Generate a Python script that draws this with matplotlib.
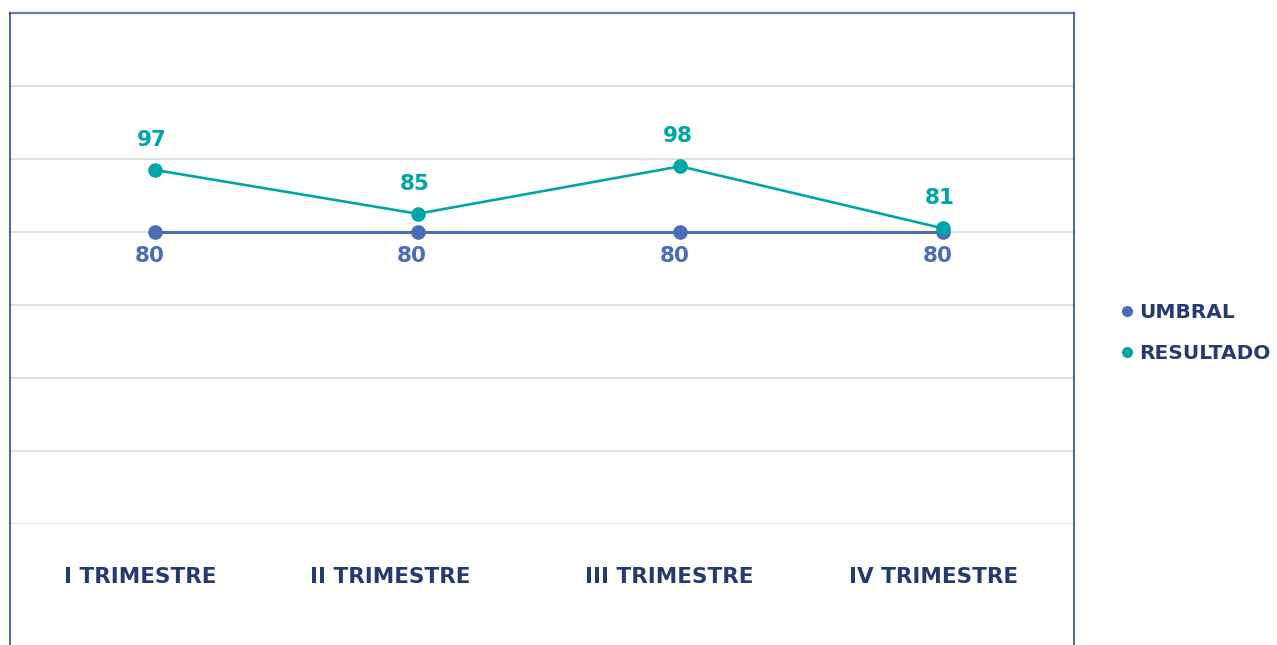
import matplotlib.pyplot as plt
from matplotlib.lines import Line2D
import matplotlib.transforms as mtransforms

# data
trimestres = ['I TRIMESTRE', 'II TRIMESTRE', 'III TRIMESTRE', 'IV TRIMESTRE']
umbral = [80, 80, 80, 80]
resultado = [97, 85, 98, 81]

blue = '#4A6DB5'
teal = '#00A5A8'
navy = '#243B72'
font = 'DejaVu Sans'

W, H = 1277, 645
fig = plt.figure(figsize=(W / 100, H / 100), dpi=100)
L, R, T, B = 10, 1074, 13, 524
ax = fig.add_axes([L / W, (H - B) / H, (R - L) / W, (B - T) / H])

x = list(range(len(trimestres)))
ax.plot(x, umbral, color=blue, lw=2.2, marker='o', ms=9.5, zorder=3)
ax.plot(x, resultado, color=teal, lw=1.9, marker='o', ms=9.5, zorder=4)

for xi, u, r in zip(x, umbral, resultado):
    ax.annotate(str(r), (xi, r), xytext=(-2, 21.5), textcoords='offset points',
                ha='center', va='center', color=teal, fontsize=15.5,
                fontweight='bold', family=font)
    ax.annotate(str(u), (xi, u), xytext=(-4, -17.5), textcoords='offset points',
                ha='center', va='center', color=blue, fontsize=15.5,
                fontweight='bold', family=font)

ax.set_xlim(-0.552, 3.499)
ax.set_ylim(0, 140)
ax.set_yticks(range(0, 141, 20))
ax.grid(axis='y', color='#DADADA', lw=1.2)
ax.set_axisbelow(True)
ax.tick_params(length=0, labelleft=False)
for s in ax.spines.values():
    s.set_visible(False)

# category labels below plot area
ax.set_xticks(x)
ax.set_xticklabels(trimestres, color=navy, fontsize=15.5, fontweight='bold',
                   family=font)
ax.tick_params(axis='x', pad=31)
label_shift = [-15, -27, -11, -9]
for lab, dx in zip(ax.get_xticklabels(), label_shift):
    lab.set_transform(lab.get_transform() +
                      mtransforms.ScaledTranslation(dx / 100, 0, fig.dpi_scale_trans))

# outer frame
fig.add_artist(Line2D([L / W, R / W], [1 - T / H, 1 - T / H], color='#6B7FA3', lw=1.6))
fig.add_artist(Line2D([L / W, L / W], [0, 1 - T / H], color='#2E4A86', lw=1.2))
fig.add_artist(Line2D([R / W, R / W], [0, 1 - T / H], color='#2E4A86', lw=1.2))

# legend
handles = [Line2D([], [], ls='', marker='o', ms=7, color=blue),
           Line2D([], [], ls='', marker='o', ms=7, color=teal)]
leg = fig.legend(handles, ['UMBRAL', 'RESULTADO'], loc='center left',
                 bbox_to_anchor=(1103 / W, 1 - 333 / H), frameon=False,
                 handlelength=0.6, handletextpad=0.3, labelspacing=1.1,
                 prop={'family': font, 'weight': 'bold', 'size': 14.5})
for t in leg.get_texts():
    t.set_color(navy)

fig.savefig('out.png', dpi=100)
